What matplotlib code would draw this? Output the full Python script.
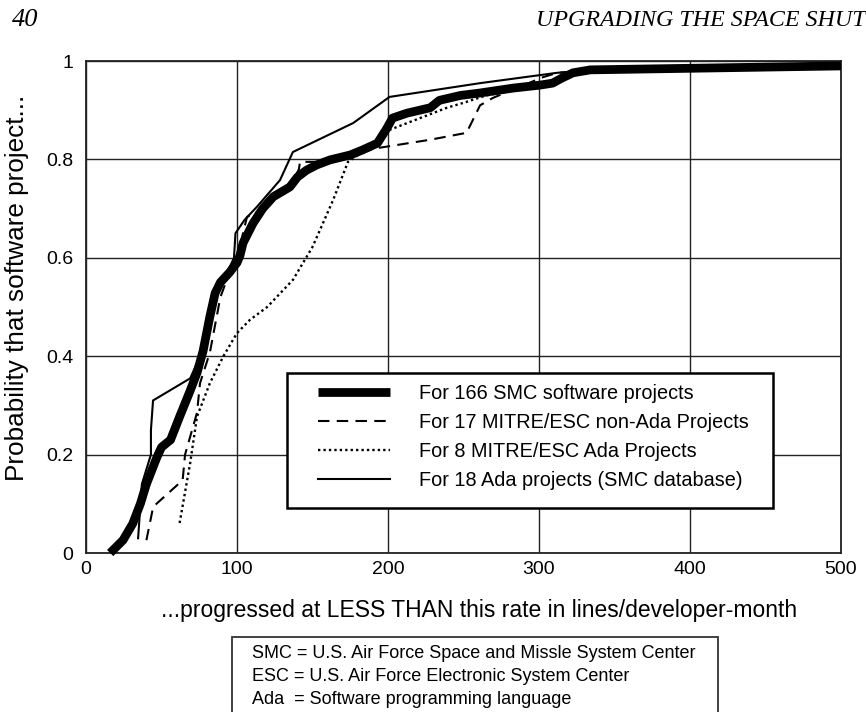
import matplotlib
matplotlib.use("Agg")
import matplotlib.pyplot as plt
from matplotlib.patches import Rectangle
from matplotlib.lines import Line2D

plt.rcParams['font.family'] = ['Liberation Sans', 'DejaVu Sans']

# ---- data ----
smc_x = [16, 24.5, 31, 36, 40, 47, 50, 56, 62, 69, 73.5, 77.5, 82, 85.5, 89, 95, 100, 102,
         104, 110.6, 117, 124, 135, 140, 146, 153, 161.6, 175, 183, 193, 199, 203, 212.6,
         228, 234, 248, 261, 283, 300.7, 309, 315, 322.5, 334, 500]
smc_y = [0, 0.026, 0.06, 0.10, 0.14, 0.195, 0.215, 0.23, 0.277, 0.33, 0.366, 0.41, 0.48,
         0.528, 0.55, 0.57, 0.59, 0.605, 0.63, 0.67, 0.70, 0.724, 0.744, 0.764, 0.778, 0.789,
         0.799, 0.809, 0.819, 0.833, 0.862, 0.884, 0.894, 0.905, 0.92, 0.93, 0.935, 0.945,
         0.951, 0.955, 0.965, 0.976, 0.982, 0.99]

nonada_x = [40, 44.5, 64, 65.6, 73.5, 75.5, 82, 89, 95, 100, 104, 106.6, 113, 124, 135, 141,
            141.7, 153, 161.6, 175, 193, 228, 252, 261, 269.5, 302.6, 312, 330, 500]
nonada_y = [0.026, 0.094, 0.148, 0.2, 0.285, 0.345, 0.407, 0.52, 0.57, 0.60, 0.65, 0.683,
            0.693, 0.72, 0.745, 0.78, 0.795, 0.795, 0.799, 0.809, 0.823, 0.84, 0.854, 0.91,
            0.925, 0.967, 0.976, 0.98, 0.99]

mitre_ada_x = [62, 69, 73.5, 82, 91, 100, 108.6, 120, 137, 150, 163.6, 173.5, 183, 193, 201,
               239, 250, 265, 300, 330, 500]
mitre_ada_y = [0.061, 0.183, 0.277, 0.345, 0.4, 0.447, 0.474, 0.5, 0.555, 0.622, 0.717, 0.795,
               0.815, 0.83, 0.86, 0.905, 0.915, 0.93, 0.95, 0.98, 0.99]

smc_ada_x = [34.5, 37, 43, 43, 44.4, 69, 77, 85, 92, 98, 99, 105, 113, 128.5, 137, 177, 201,
             261, 312, 330, 500]
smc_ada_y = [0.03, 0.14, 0.2, 0.25, 0.31, 0.355, 0.41, 0.525, 0.56, 0.60, 0.65, 0.677, 0.703,
             0.758, 0.815, 0.874, 0.927, 0.955, 0.976, 0.98, 0.99]

labels = ["For 166 SMC software projects",
          "For 17 MITRE/ESC non-Ada Projects",
          "For 8 MITRE/ESC Ada Projects",
          "For 18 Ada projects (SMC database)"]

x_ticks = [0, 100, 200, 300, 400, 500]
y_ticks = [0, 0.2, 0.4, 0.6, 0.8, 1]
y_ticklabels = ["0", "0.2", "0.4", "0.6", "0.8", "1"]

notes = ["SMC = U.S. Air Force Space and Missle System Center",
         "ESC = U.S. Air Force Electronic System Center",
         "Ada  = Software programming language"]

# ---- figure ----
W, H = 866, 712
fig = plt.figure(figsize=(W / 100, H / 100), dpi=100)
ax = fig.add_axes([86 / W, 1 - 553 / H, (841 - 86) / W, (553 - 61) / H])

ax.plot(smc_x, smc_y, color='black', lw=6.3, solid_capstyle='butt',
        solid_joinstyle='round', zorder=3, clip_on=False)
ax.plot(nonada_x, nonada_y, color='black', lw=1.5, dashes=(5.5, 3.5), zorder=3)
ax.plot(mitre_ada_x, mitre_ada_y, color='black', lw=1.7, dashes=(1.0, 1.3), zorder=3)
ax.plot(smc_ada_x, smc_ada_y, color='black', lw=1.5, zorder=3)

ax.set_xlim(0, 500)
ax.set_ylim(0, 1)
ax.set_xticks(x_ticks)
ax.set_yticks(y_ticks)
ax.set_yticklabels(y_ticklabels)
ax.tick_params(length=0, labelsize=14)
ax.tick_params(axis='y', pad=9)
ax.tick_params(axis='x', pad=6)
ax.grid(True, color='#222222', lw=1.0)
ax.set_axisbelow(True)
for s in ax.spines.values():
    s.set_linewidth(1.3)
    s.set_color('#222222')

fig.text(17 / W, 1 - 288 / H, "Probability that software project...", fontsize=18.8,
         rotation=90, ha='center', va='center')
fig.text(479 / W, 1 - 610 / H, "...progressed at LESS THAN this rate in lines/developer-month",
         fontsize=16.5, ha='center', va='center')

# legend box
rect = Rectangle(((287 - 86) / 755, (553 - 508) / 492), (773 - 287) / 755, (508 - 373) / 492,
                 transform=ax.transAxes, facecolor='white', edgecolor='black', lw=1.8,
                 zorder=4)
ax.add_patch(rect)
h1 = Line2D([], [], color='black', lw=6.3, solid_capstyle='butt')
h2 = Line2D([], [], color='black', lw=1.5, dashes=(5.5, 3.5))
h3 = Line2D([], [], color='black', lw=1.7, dashes=(1.0, 1.3))
h4 = Line2D([], [], color='black', lw=1.5)
leg = ax.legend([h1, h2, h3, h4], labels, loc='upper left',
                bbox_to_anchor=((318 - 86) / 755, (553 - 384) / 492),
                frameon=False, fontsize=14.3, handlelength=3.6, handletextpad=1.5,
                labelspacing=0.5, borderpad=0, borderaxespad=0)
leg.set_zorder(5)

# header
fig.text(12 / W, 1 - 20 / H, "40", fontsize=19, family='Liberation Serif', style='italic',
         ha='left', va='center')
fig.text(866 / W, 1 - 20 / H, "UPGRADING THE SPACE SHUT", fontsize=17.3,
         family='Liberation Serif', style='italic', ha='right', va='center')

# notes box at bottom
nb = Rectangle((232 / W, -0.05), (718 - 232) / W, 0.05 + (712 - 637) / H,
               transform=fig.transFigure, facecolor='none', edgecolor='#333333', lw=1.3)
fig.add_artist(nb)
for i, t in enumerate(notes):
    fig.text(252 / W, 1 - (653 + i * 23.5) / H, t, fontsize=13, ha='left', va='center')

fig.savefig("out.png", dpi=100)
